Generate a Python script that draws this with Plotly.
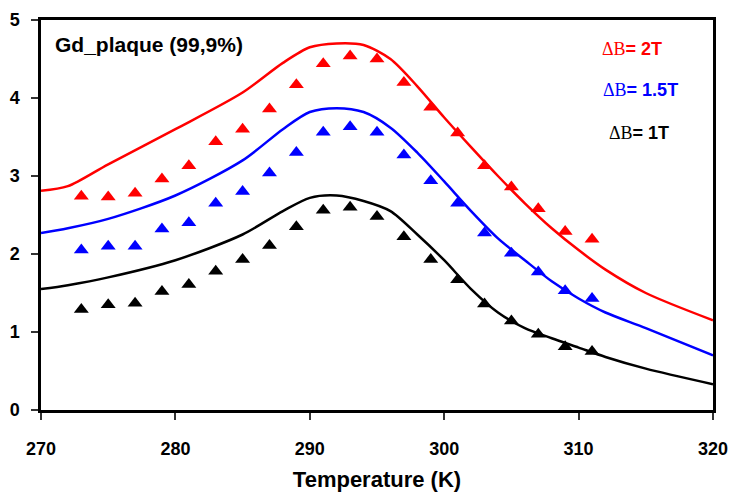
import plotly.graph_objects as go

# Measured points (triangles)
T_pts = [273, 275, 277, 279, 281, 283, 285, 287, 289, 291, 293, 295, 297, 299, 301, 303, 305, 307, 309, 311]
pts_2T = [2.74, 2.73, 2.78, 2.96, 3.13, 3.44, 3.60, 3.86, 4.17, 4.44, 4.54, 4.50, 4.20, 3.88, 3.55, 3.13, 2.86, 2.58, 2.29, 2.19]
pts_15T = [2.05, 2.10, 2.10, 2.32, 2.40, 2.65, 2.80, 3.04, 3.30, 3.56, 3.63, 3.56, 3.27, 2.94, 2.65, 2.27, 2.01, 1.77, 1.53, 1.43]
pts_1T = [1.29, 1.35, 1.37, 1.52, 1.61, 1.78, 1.93, 2.11, 2.35, 2.56, 2.60, 2.48, 2.22, 1.93, 1.67, 1.36, 1.14, 0.97, 0.81, 0.75]

# Calculated curves (lines)
T_line = [270, 272, 275, 280, 285, 288, 290, 292, 294, 296, 298, 300, 302, 304, 306, 308, 310, 312, 315, 320]
line_2T = [2.81, 2.87, 3.15, 3.60, 4.07, 4.45, 4.65, 4.70, 4.68, 4.50, 4.15, 3.75, 3.37, 3.00, 2.65, 2.33, 2.05, 1.80, 1.50, 1.15]
line_15T = [2.27, 2.33, 2.45, 2.75, 3.20, 3.60, 3.82, 3.87, 3.82, 3.62, 3.30, 2.93, 2.55, 2.20, 1.92, 1.65, 1.43, 1.25, 1.05, 0.70]
line_1T = [1.55, 1.60, 1.70, 1.92, 2.25, 2.55, 2.72, 2.75, 2.68, 2.55, 2.25, 1.92, 1.55, 1.25, 1.05, 0.92, 0.80, 0.68, 0.53, 0.33]

x_ticks = [270, 280, 290, 300, 310, 320]
y_ticks = [0, 1, 2, 3, 4, 5]

fig = go.Figure()
for y, c in [(line_2T, "#ff0000"), (line_15T, "#0000ff"), (line_1T, "#000000")]:
    fig.add_trace(go.Scatter(x=T_line, y=y, mode="lines", line=dict(color=c, width=2.5, shape="spline", smoothing=0.8),
                             showlegend=False, hoverinfo="skip"))
for y, c in [(pts_2T, "#ff0000"), (pts_15T, "#0000ff"), (pts_1T, "#000000")]:
    fig.add_trace(go.Scatter(x=T_pts, y=y, mode="markers", marker=dict(symbol="triangle-up", size=13, color=c),
                             showlegend=False))

font_family = "Liberation Sans, Arial, sans-serif"
fig.update_layout(
    width=730, height=497,
    margin=dict(l=41, r=17, t=20, b=87),
    paper_bgcolor="white", plot_bgcolor="white",
    font=dict(family=font_family, color="black"),
    xaxis=dict(range=[270, 320], tickvals=x_ticks, showgrid=False, zeroline=False, automargin=False,
               showline=True, linecolor="black", linewidth=2.5, mirror=True,
               ticks="outside", ticklen=7, tickwidth=1.5, tickcolor="#333", ticklabelstandoff=14,
               tickfont=dict(size=18, weight="bold", family=font_family),
               title=dict(text="Temperature (K)", font=dict(size=22, weight="bold", family=font_family), standoff=14)),
    yaxis=dict(range=[0, 5], tickvals=y_ticks, showgrid=False, zeroline=False, automargin=False,
               showline=True, linecolor="black", linewidth=2.5, mirror=True,
               ticks="outside", ticklen=7, tickwidth=1.5, tickcolor="#333", ticklabelstandoff=8,
               tickfont=dict(size=18, weight="bold", family=font_family)),
)

fig.add_annotation(x=0.018, y=0.937, xref="paper", yref="paper", xanchor="left", yanchor="middle",
                   text="<b>Gd_plaque (99,9%)</b>", showarrow=False, font=dict(size=21, color="black"))
legend_items = [("2T", "#ff0000", 0.925, 0.832), ("1.5T", "#0000ff", 0.82, 0.833), ("1T", "#000000", 0.71, 0.842)]
for lab, c, yy, xx in legend_items:
    fig.add_annotation(x=xx, y=yy, xref="paper", yref="paper", xanchor="left", yanchor="middle",
                       text="<span style='font-family:Liberation Serif'>ΔB</span><b>= " + lab + "</b>",
                       showarrow=False, font=dict(size=18, color=c))

fig.write_html("out.html")
